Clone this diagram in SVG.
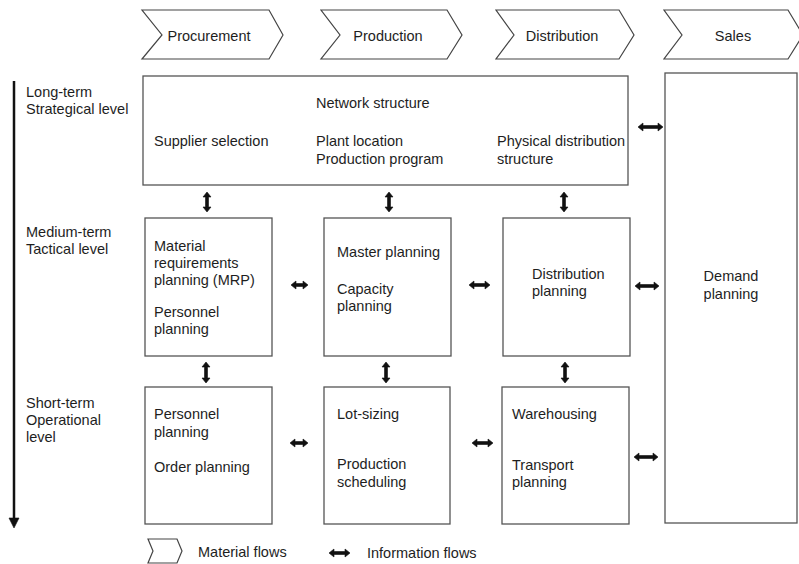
<svg xmlns="http://www.w3.org/2000/svg" width="799" height="564" viewBox="0 0 799 564">
<style>
text{font-family:"Liberation Sans",Arial,sans-serif;font-size:14.5px;fill:#1e1e1e}
.box{fill:#fff;stroke:#555;stroke-width:1.3}
.chev{fill:#fff;stroke:#444;stroke-width:1.2}
.arr{fill:#111;stroke:#111;stroke-width:0.6;stroke-linejoin:round}
.mid{text-anchor:middle}
</style>
<rect width="799" height="564" fill="#fff"/>
<g id="chev-procurement">
<polygon class="chev" points="142,10 269,10 283,35 269,59 142,59 162,35"/>
<text class="mid" x="209" y="41">Procurement</text>
</g>
<g id="chev-production">
<polygon class="chev" points="321,10 447,10 462,35 447,59 321,59 340,35"/>
<text class="mid" x="388" y="41">Production</text>
</g>
<g id="chev-distribution">
<polygon class="chev" points="496,10 619,10 634,35 619,59 496,59 514,35"/>
<text class="mid" x="562" y="41">Distribution</text>
</g>
<g id="chev-sales">
<polygon class="chev" points="664,10 788,10 803,35 788,59 664,59 682,35"/>
<text class="mid" x="733" y="41">Sales</text>
</g>
<g id="levels">
<text x="26" y="97">Long-term</text>
<text x="26" y="114">Strategical level</text>
<text x="26" y="237">Medium-term</text>
<text x="26" y="254">Tactical level</text>
<text x="26" y="408">Short-term</text>
<text x="26" y="425">Operational</text>
<text x="26" y="442">level</text>
</g>
<g id="strategic">
<rect class="box" x="143" y="76" width="485" height="109"/>
<text x="316" y="108">Network structure</text>
<text x="154" y="146">Supplier selection</text>
<text x="316" y="146">Plant location</text>
<text x="316" y="164">Production program</text>
<text x="497" y="146">Physical distribution</text>
<text x="497" y="164">structure</text>
</g>
<g id="demand">
<rect class="box" x="665" y="73" width="132" height="450"/>
<text class="mid" x="731" y="281">Demand</text>
<text class="mid" x="731" y="299">planning</text>
</g>
<g id="mid-procurement">
<rect class="box" x="145" y="218" width="127" height="138"/>
<text x="154" y="251">Material</text>
<text x="154" y="268">requirements</text>
<text x="154" y="285">planning (MRP)</text>
<text x="154" y="317">Personnel</text>
<text x="154" y="334">planning</text>
</g>
<g id="mid-production">
<rect class="box" x="324" y="218" width="127" height="138"/>
<text x="337" y="257">Master planning</text>
<text x="337" y="294">Capacity</text>
<text x="337" y="311">planning</text>
</g>
<g id="mid-distribution">
<rect class="box" x="503" y="218" width="127" height="138"/>
<text x="532" y="279">Distribution</text>
<text x="532" y="296">planning</text>
</g>
<g id="op-procurement">
<rect class="box" x="145" y="387" width="127" height="137"/>
<text x="154" y="419">Personnel</text>
<text x="154" y="437">planning</text>
<text x="154" y="472">Order planning</text>
</g>
<g id="op-production">
<rect class="box" x="324" y="387" width="126" height="137"/>
<text x="337" y="419">Lot-sizing</text>
<text x="337" y="469">Production</text>
<text x="337" y="487">scheduling</text>
</g>
<g id="op-distribution">
<rect class="box" x="502" y="387" width="127" height="137"/>
<text x="512" y="419">Warehousing</text>
<text x="512" y="470">Transport</text>
<text x="512" y="487">planning</text>
</g>
<g id="connectors">
<line x1="14" y1="81" x2="14" y2="519" stroke="#111" stroke-width="2.5"/>
<polygon class="arr" points="9,518 19,518 14,528"/>
<polygon class="arr" points="638,127 643,123 643,125.5 658,125.5 658,123 663,127 658,131 658,128.5 643,128.5 643,131"/>
<polygon class="arr" points="291,285 296,281 296,283.5 303,283.5 303,281 308,285 303,289 303,286.5 296,286.5 296,289"/>
<polygon class="arr" points="469,285 474,281 474,283.5 485,283.5 485,281 490,285 485,289 485,286.5 474,286.5 474,289"/>
<polygon class="arr" points="635,286 640,282 640,284.5 654,284.5 654,282 659,286 654,290 654,287.5 640,287.5 640,290"/>
<polygon class="arr" points="290,443 295,439 295,441.5 303,441.5 303,439 308,443 303,447 303,444.5 295,444.5 295,447"/>
<polygon class="arr" points="472,443 477,439 477,441.5 488,441.5 488,439 493,443 488,447 488,444.5 477,444.5 477,447"/>
<polygon class="arr" points="634,457 639,453 639,455.5 653,455.5 653,453 658,457 653,461 653,458.5 639,458.5 639,461"/>
<polygon class="arr" points="207,192 211,197 208.5,197 208.5,207 211,207 207,212 203,207 205.5,207 205.5,197 203,197"/>
<polygon class="arr" points="389,192 393,197 390.5,197 390.5,207 393,207 389,212 385,207 387.5,207 387.5,197 385,197"/>
<polygon class="arr" points="564,192 568,197 565.5,197 565.5,207 568,207 564,212 560,207 562.5,207 562.5,197 560,197"/>
<polygon class="arr" points="206,362 210,367 207.5,367 207.5,378 210,378 206,383 202,378 204.5,378 204.5,367 202,367"/>
<polygon class="arr" points="386,362 390,367 387.5,367 387.5,378 390,378 386,383 382,378 384.5,378 384.5,367 382,367"/>
<polygon class="arr" points="565,362 569,367 566.5,367 566.5,378 569,378 565,383 561,378 563.5,378 563.5,367 561,367"/>
</g>
<g id="legend">
<polygon class="chev" points="148,539 177,539 182,551 177,563 148,563 153,551"/>
<text x="198" y="557">Material flows</text>
<polygon class="arr" points="329,553 334,549 334,551.5 345,551.5 345,549 350,553 345,557 345,554.5 334,554.5 334,557"/>
<text x="367" y="558">Information flows</text>
</g>
</svg>
